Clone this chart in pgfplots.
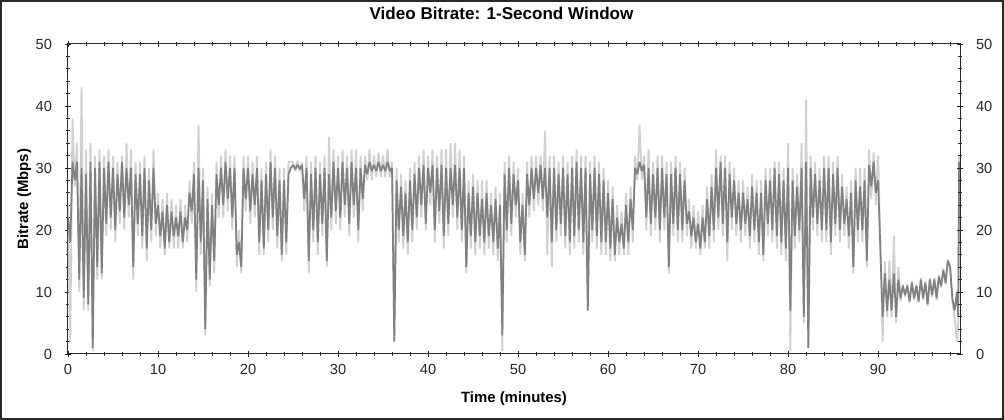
\documentclass[border=0pt]{standalone}
\usepackage{fontspec}
\setmainfont{Liberation Sans}
\usepackage{pgfplots}
\usepackage{pgfplotstable}
\pgfplotsset{compat=1.18}
\definecolor{darkser}{RGB}{128,128,128}
\definecolor{lightser}{RGB}{208,208,208}
\definecolor{axc}{RGB}{40,40,40}

\pgfplotstableread[row sep=\\]{
t d l\\
0 22 24\\ 0.25 18 2\\ 0.5 31 38\\ 0.75 28 27\\
1 31 34\\ 1.25 12 10\\ 1.5 30 43\\ 1.75 9 7\\
2 29 33\\ 2.25 8 7\\ 2.5 31 34\\ 2.75 1 0.5\\
3 30 32\\ 3.25 14 12\\ 3.5 31 33\\ 3.75 13 12\\
4 30 32\\ 4.25 21 19\\ 4.5 31 33\\ 4.75 22 20\\
5 30 32\\ 5.25 20 18\\ 5.5 29 31\\ 5.75 23 21\\
6 31 32\\ 6.25 22 20\\ 6.5 30 34\\ 6.75 24 22\\
7 30 33\\ 7.25 14 12\\ 7.5 29 31\\ 7.75 21 19\\
8 29 31\\ 8.25 19 17\\ 8.5 30 32\\ 8.75 17 15\\
9 28 30\\ 9.25 20 18\\ 9.5 30 33\\ 9.75 21 19\\
10 24 26\\ 10.25 19 17\\ 10.5 23 25\\ 10.75 17 16\\
11 24 26\\ 11.25 18 17\\ 11.5 23 25\\ 11.75 19 17\\
12 22 24\\ 12.25 19 17\\ 12.5 23 25\\ 12.75 18 17\\
13 22 24\\ 13.25 20 18\\ 13.5 26 28\\ 13.75 23 21\\
14 29 31\\ 14.25 12 10\\ 14.5 30 37\\ 14.75 18 16\\
15 28 30\\ 15.25 4 3\\ 15.5 25 27\\ 15.75 12 11\\
16 24 26\\ 16.25 15 13\\ 16.5 29 31\\ 16.75 24 22\\
17 30 32\\ 17.25 24 22\\ 17.5 31 33\\ 17.75 25 23\\
18 30 32\\ 18.25 22 20\\ 18.5 30 32\\ 18.75 16 14\\
19 18 20\\ 19.25 14 13\\ 19.5 30 32\\ 19.75 25 23\\
20 30 32\\ 20.25 23 21\\ 20.5 29 31\\ 20.75 24 22\\
21 30 32\\ 21.25 18 16\\ 21.5 28 30\\ 21.75 17 16\\
22 29 31\\ 22.25 20 18\\ 22.5 31 33\\ 22.75 22 20\\
23 30 32\\ 23.25 19 17\\ 23.5 28 30\\ 23.75 16 15\\
24 28 30\\ 24.25 18 16\\ 24.5 29 31\\ 24.75 30 31\\
25 30.5 31\\ 25.25 29.8 29.5\\ 25.5 30.5 31.2\\ 25.75 29.8 29.5\\
26 30.5 31\\ 26.25 25 23\\ 26.5 30 32\\ 26.75 15 13\\
27 29 31\\ 27.25 20 18\\ 27.5 30 32\\ 27.75 18 16\\
28 29 31\\ 28.25 21 19\\ 28.5 30 32\\ 28.75 15 14\\
29 29 35\\ 29.25 22 20\\ 29.5 31 33\\ 29.75 23 21\\
30 30 32\\ 30.25 22 20\\ 30.5 31 33\\ 30.75 24 22\\
31 30 32\\ 31.25 21 19\\ 31.5 31 33\\ 31.75 24 22\\
32 30 33\\ 32.25 20 18\\ 32.5 30 32\\ 32.75 25 23\\
33 30.5 32\\ 33.25 29 28\\ 33.5 31 33\\ 33.75 29.5 28\\
34 30.5 32\\ 34.25 29.5 28.5\\ 34.5 31 32.5\\ 34.75 29.5 28.5\\
35 30.5 32\\ 35.25 29.5 28.5\\ 35.5 31 33\\ 35.75 29.5 28.5\\
36 30 31\\ 36.25 2 2\\ 36.5 28 30\\ 36.75 20 18\\
37 27 29\\ 37.25 19 17\\ 37.5 26 28\\ 37.75 18 16\\
38 28 30\\ 38.25 20 18\\ 38.5 29 31\\ 38.75 22 20\\
39 30 32\\ 39.25 24 22\\ 39.5 30.5 33\\ 39.75 21 20\\
40 30 32\\ 40.25 26 24\\ 40.5 30.5 33\\ 40.75 20 18\\
41 30 32\\ 41.25 23 21\\ 41.5 30.5 33\\ 41.75 19 17\\
42 30 33\\ 42.25 21 19\\ 42.5 30 34\\ 42.75 24 22\\
43 30.5 34\\ 43.25 22 20\\ 43.5 30 33\\ 43.75 20 18\\
44 30 32\\ 44.25 14 13\\ 44.5 26 28\\ 44.75 19 17\\
45 27 29\\ 45.25 18 16\\ 45.5 26 28\\ 45.75 19 17\\
46 25 28\\ 46.25 18 16\\ 46.5 26 28\\ 46.75 19 17\\
47 24 26\\ 47.25 18 16\\ 47.5 25 27\\ 47.75 17 15\\
48 24 26\\ 48.25 3 0.5\\ 48.5 29 31\\ 48.75 20 18\\
49 30 32\\ 49.25 21 19\\ 49.5 29 31\\ 49.75 24 22\\
50 28 30\\ 50.25 18 16\\ 50.5 24 26\\ 50.75 16 15\\
51 29 31\\ 51.25 24 22\\ 51.5 30 32\\ 51.75 25 23\\
52 30 32\\ 52.25 26 24\\ 52.5 30.5 32\\ 52.75 25 23\\
53 30 36\\ 53.25 22 16\\ 53.5 30 32\\ 53.75 18 14\\
54 30 32\\ 54.25 20 18\\ 54.5 29 31\\ 54.75 21 19\\
55 30 32\\ 55.25 19 17\\ 55.5 29 31\\ 55.75 18 16\\
56 30 32\\ 56.25 19 17\\ 56.5 31 33\\ 56.75 20 18\\
57 30 32\\ 57.25 18 16\\ 57.5 30 32\\ 57.75 7 7\\
58 29 31\\ 58.25 20 18\\ 58.5 30 32\\ 58.75 19 17\\
59 29 31\\ 59.25 18 16\\ 59.5 28 30\\ 59.75 18 16\\
60 26 28\\ 60.25 17 15\\ 60.5 25 27\\ 60.75 16 15\\
61 22 24\\ 61.25 18 16\\ 61.5 21 23\\ 61.75 17 16\\
62 24 26\\ 62.25 18 16\\ 62.5 25 27\\ 62.75 20 18\\
63 30 32\\ 63.25 29 28\\ 63.5 31 37\\ 63.75 29.5 28\\
64 30.5 32\\ 64.25 22 20\\ 64.5 30 33\\ 64.75 21 19\\
65 29 31\\ 65.25 22 20\\ 65.5 30 32\\ 65.75 20 18\\
66 30 32\\ 66.25 22 20\\ 66.5 29 31\\ 66.75 14 13\\
67 29 31\\ 67.25 21 19\\ 67.5 30 32\\ 67.75 20 18\\
68 29 31\\ 68.25 20 18\\ 68.5 28 30\\ 68.75 21 19\\
69 23 25\\ 69.25 19 17\\ 69.5 22 24\\ 69.75 18 17\\
70 21 23\\ 70.25 17 16\\ 70.5 22 24\\ 70.75 18 17\\
71 25 27\\ 71.25 19 17\\ 71.5 27 29\\ 71.75 20 18\\
72 30 33\\ 72.25 22 20\\ 72.5 31 32\\ 72.75 21 19\\
73 30 32\\ 73.25 18 15\\ 73.5 29 31\\ 73.75 22 20\\
74 28 30\\ 74.25 21 19\\ 74.5 26 28\\ 74.75 20 18\\
75 26 28\\ 75.25 21 19\\ 75.5 25 27\\ 75.75 19 17\\
76 27 29\\ 76.25 20 18\\ 76.5 26 28\\ 76.75 18 16\\
77 26 28\\ 77.25 16 15\\ 77.5 28 30\\ 77.75 21 19\\
78 28 30\\ 78.25 20 18\\ 78.5 30 31\\ 78.75 19 17\\
79 29 31\\ 79.25 18 16\\ 79.5 28 30\\ 79.75 17 15\\
80 30 34\\ 80.25 7 0.5\\ 80.5 28 30\\ 80.75 19 17\\
81 27 29\\ 81.25 20 18\\ 81.5 30 34\\ 81.75 6 5\\
82 31 41\\ 82.25 1 1\\ 82.5 30 32\\ 82.75 22 20\\
83 29 31\\ 83.25 21 19\\ 83.5 28 30\\ 83.75 20 18\\
84 30 32\\ 84.25 20 18\\ 84.5 30 32\\ 84.75 18 16\\
85 29 31\\ 85.25 21 19\\ 85.5 30 32\\ 85.75 20 18\\
86 27 29\\ 86.25 21 19\\ 86.5 25 27\\ 86.75 19 17\\
87 26 28\\ 87.25 14 13\\ 87.5 28 30\\ 87.75 20 18\\
88 27 30\\ 88.25 20 18\\ 88.5 28 30\\ 88.75 15 14\\
89 30.5 33\\ 89.25 27 25\\ 89.5 31 32.5\\ 89.75 26 24\\
90 28 32\\ 90.25 17 18\\ 90.5 6 2\\ 90.75 13 15\\
91 7 6\\ 91.25 12 15\\ 91.5 7 6\\ 91.75 13 19\\
92 6 5\\ 92.25 12 14\\ 92.5 9 8.5\\ 92.75 11 11.3\\
93 9.5 9.2\\ 93.25 11 11.3\\ 93.5 8.5 8.2\\ 93.75 11.5 11.8\\
94 9 8.7\\ 94.25 11 11.3\\ 94.5 8.5 8.2\\ 94.75 12 12.3\\
95 9 8.7\\ 95.25 11.5 11.8\\ 95.5 8 7.7\\ 95.75 12 12.3\\
96 9.5 9.2\\ 96.25 12 12.3\\ 96.5 9 8.7\\ 96.75 12.5 12.8\\
97 11 10.7\\ 97.25 13.5 13.8\\ 97.5 11.5 11.2\\ 97.75 15 15.3\\
98 14 14.3\\ 98.25 9 8.5\\ 98.5 7 6\\ 98.75 10 2\\
98.9 6 5\\ 99 31 32\\ 99.1 22 20\\
}\bitrate

\begin{document}
\begin{tikzpicture}
\path[use as bounding box] (-51pt,-49.5pt) rectangle (702pt,265.5pt);
\draw[axc, line width=1.2pt] (-50.4pt,-48.9pt) rectangle (701.4pt,264.9pt);
\begin{axis}[
  at={(0,0)}, anchor=south west,
  scale only axis, width=669pt, height=232.5pt,
  xmin=0, xmax=99.1, ymin=0, ymax=50,
  xtick={0,10,...,90}, ytick={0,10,...,50},
  minor xtick={0,2,...,98}, minor ytick={0,2,...,50},
  ytick pos=left,
  tick align=center,
  major tick length=5pt, minor tick length=3pt,
  axis line style={axc, line width=0.75pt},
  tick style={axc, line width=0.6pt},
  tick label style={font=\fontsize{11}{13}\selectfont, text=axc},
  /pgf/number format/assume math mode=true,
  yticklabel shift=6pt, xticklabel shift=2pt,
  title={Video Bitrate: 1-Second Window},
  title style={at={(axis description cs:0.486,1.0538)}, anchor=base, font=\fontsize{12.8}{15}\selectfont\bfseries},
  xlabel={Time (minutes)},
  xlabel style={at={(axis description cs:0.5,-0.158)}, anchor=base, font=\fontsize{11.2}{13}\selectfont\bfseries},
  ylabel={Bitrate (Mbps)},
  ylabel style={at={(axis description cs:-0.0448,0.5)}, anchor=base, font=\fontsize{11.2}{13}\selectfont\bfseries},
]
\addplot[lightser, line width=1.4pt, line join=miter, miter limit=1] table[x=t,y=l]{\bitrate};
\addplot[darkser, line width=1.3pt, line join=miter, miter limit=1] table[x=t,y=d]{\bitrate};
\end{axis}
\begin{axis}[
  at={(0,0)}, anchor=south west,
  scale only axis, width=669pt, height=232.5pt,
  xmin=0, xmax=99.1, ymin=0, ymax=50,
  axis x line=none, axis y line*=right,
  ytick={0,10,...,50}, minor ytick={0,2,...,50},
  tick align=center,
  major tick length=5pt, minor tick length=3pt,
  axis line style={axc, line width=0.75pt},
  tick style={axc, line width=0.6pt},
  tick label style={font=\fontsize{11}{13}\selectfont, text=axc},
  /pgf/number format/assume math mode=true,
  yticklabel shift=6pt,
]
\end{axis}
\end{tikzpicture}
\end{document}
